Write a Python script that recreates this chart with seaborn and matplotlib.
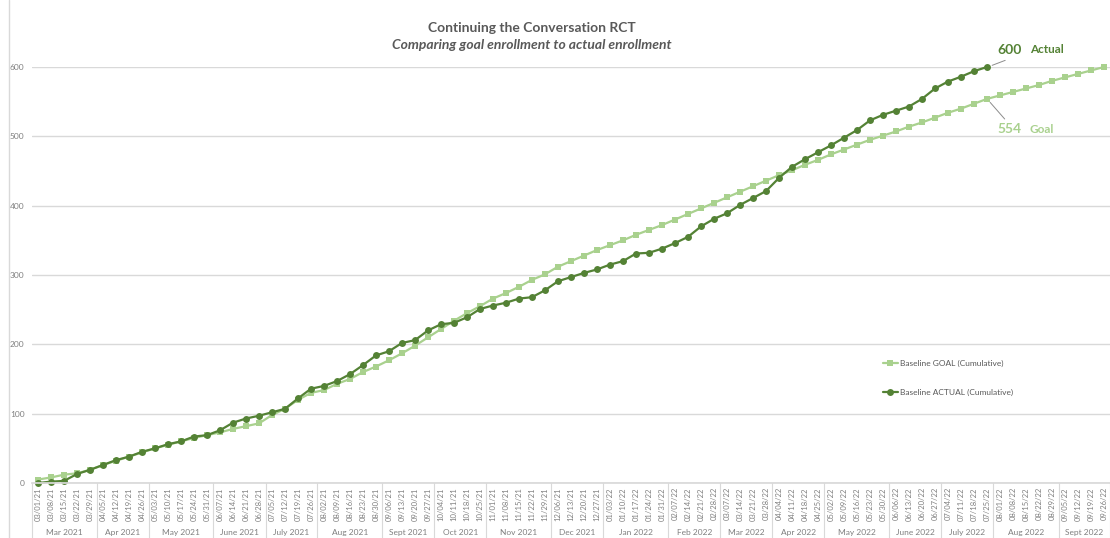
import pandas as pd
import seaborn as sns
import matplotlib.pyplot as plt
import matplotlib.transforms as mtransforms
from matplotlib.lines import Line2D

# weekly enrollment dates (Mondays)
week_dates = pd.date_range('2021-03-01', periods=83, freq='7D')
date_labels = [d.strftime('%m/%d/%y') for d in week_dates]

month_names = {1: 'Jan', 2: 'Feb', 3: 'Mar', 4: 'Apr', 5: 'May', 6: 'June',
               7: 'July', 8: 'Aug', 9: 'Sept', 10: 'Oct', 11: 'Nov', 12: 'Dec'}

goal = [5, 8, 12, 14, 19, 26, 32, 38, 44, 50,
        55, 60, 65, 69, 73, 78, 82, 86, 98, 107,
        120, 130, 134, 143, 150, 160, 168, 177, 187, 198,
        210, 222, 234, 245, 255, 266, 274, 283, 293, 301,
        312, 320, 328, 336, 343, 350, 358, 365, 372, 380,
        388, 396, 404, 412, 420, 428, 436, 444, 451, 459,
        466, 474, 481, 488, 495, 501, 507, 514, 520, 527,
        534, 540, 547, 554, 559, 564, 569, 574, 580, 585,
        590, 595, 600]

actual = [0, 2, 3, 13, 19, 26, 33, 38, 45, 50,
          56, 60, 67, 69, 76, 87, 93, 97, 102, 107,
          122, 136, 140, 147, 157, 170, 184, 190, 202, 206,
          220, 229, 231, 239, 251, 256, 260, 266, 268, 278,
          291, 297, 303, 308, 315, 320, 331, 332, 338, 346,
          355, 370, 381, 389, 401, 411, 421, 440, 456, 467,
          477, 487, 498, 509, 523, 531, 537, 543, 554, 569,
          579, 586, 594, 600]

GOAL_C = '#a9d18e'
ACT_C = '#548235'
GREY = '#7f7f7f'

sns.set_theme(style='white')
plt.rcParams['font.family'] = ['Lato', 'DejaVu Sans']

df_goal = pd.DataFrame({'week': range(len(goal)), 'value': goal})
df_act = pd.DataFrame({'week': range(len(actual)), 'value': actual})

fig = plt.figure(figsize=(11.1, 5.38), dpi=100)
ax = fig.add_axes([31.5 / 1110, 55 / 538, 1079 / 1110, 416 / 538])

sns.lineplot(data=df_goal, x='week', y='value', ax=ax, color=GOAL_C, lw=1.6,
             marker='s', markersize=4.5, markeredgewidth=0,
             label='Baseline GOAL (Cumulative)')
sns.lineplot(data=df_act, x='week', y='value', ax=ax, color=ACT_C, lw=1.6,
             marker='o', markersize=5, markeredgewidth=0,
             label='Baseline ACTUAL (Cumulative)')
for ln in ax.lines:
    ln.set_clip_on(False)

ax.set_xlim(-0.5, len(goal) - 0.5)
ax.set_ylim(0, 600)
ax.set_yticks(range(0, 601, 100))
ax.yaxis.grid(True, color='#d9d9d9', lw=1)
ax.set_axisbelow(True)
ax.set_xlabel('')
ax.set_ylabel('')
for s in ['top', 'right', 'left']:
    ax.spines[s].set_visible(False)
ax.spines['bottom'].set_color('#d9d9d9')

ax.set_xticks(range(len(date_labels)))
ax.set_xticklabels(date_labels, rotation=90, fontsize=5.5, color=GREY)
ax.tick_params(axis='x', length=0, pad=3)
ax.tick_params(axis='y', length=0, labelsize=6, colors=GREY, pad=5)

# month group labels with separators
trans = mtransforms.blended_transform_factory(ax.transData, ax.transAxes)
months = [(d.month, d.year) for d in week_dates]
start = 0
for i in range(1, len(months) + 1):
    if i == len(months) or months[i] != months[start]:
        m, y = months[start]
        ax.text((start + i - 1) / 2, -0.12, f'{month_names[m]} {y}', transform=trans,
                ha='center', va='center', fontsize=6, color=GREY)
        ax.plot([i - 0.5, i - 0.5], [0, -0.135], transform=trans, color='#d9d9d9',
                lw=0.8, clip_on=False)
        start = i
ax.plot([-0.5, -0.5], [0, -0.135], transform=trans, color='#d9d9d9', lw=0.8, clip_on=False)

leg = ax.legend(loc='upper left', bbox_to_anchor=(0.782, 0.315), frameon=False,
                fontsize=6, labelspacing=2.7, handlelength=1.8, handletextpad=0.3)
for t in leg.get_texts():
    t.set_color('#595959')

# end-of-series callouts
ax.annotate('', xy=(73.2, 601), xytext=(74.6, 611),
            arrowprops=dict(arrowstyle='-', color='#8c8c8c', lw=0.7), annotation_clip=False)
ax.text(73.8, 625, '600', color=ACT_C, fontsize=10, fontweight='bold', va='center', ha='left')
ax.text(76.3, 625, 'Actual', color=ACT_C, fontsize=8.5, fontweight='bold', va='center', ha='left')
ax.annotate('', xy=(73.1, 552), xytext=(74.5, 522),
            arrowprops=dict(arrowstyle='-', color='#8c8c8c', lw=0.7))
ax.text(73.8, 510, '554', color=GOAL_C, fontsize=10, fontweight='bold', va='center', ha='left')
ax.text(76.3, 510, 'Goal', color=GOAL_C, fontsize=8.5, fontweight='bold', va='center', ha='left')

fig.text(0.479, 1 - 28 / 538, 'Continuing the Conversation RCT', ha='center', va='center',
         fontsize=10, fontweight='bold', color='#595959')
fig.text(0.479, 1 - 45 / 538, 'Comparing goal enrollment to actual enrollment', ha='center',
         va='center', fontsize=10, fontweight='bold', style='italic', color='#595959')

fig.add_artist(Line2D([9 / 1110, 9 / 1110], [0, 1], color='#d9d9d9', lw=1))

fig.savefig('out.png', dpi=100)
